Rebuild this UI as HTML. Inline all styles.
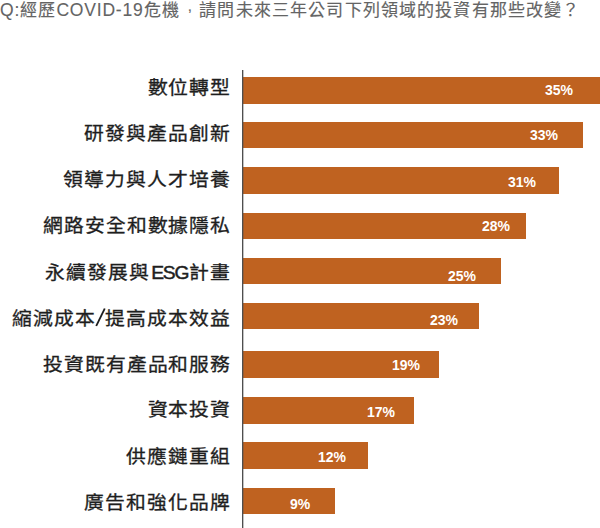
<!DOCTYPE html>
<html lang="zh-TW">
<head>
<meta charset="utf-8">
<style>
html,body{margin:0;padding:0;background:#fff;}
body{width:600px;height:528px;position:relative;overflow:hidden;font-family:"Liberation Sans",sans-serif;}
.title{position:absolute;left:0;top:-2.5px;font-size:17px;letter-spacing:1.15px;color:#646464;white-space:nowrap;line-height:24px;-webkit-text-stroke:0.15px #646464;}
.lt{-webkit-text-stroke:0.1px #646464;font-size:17.5px;letter-spacing:0.8px;}
.cm{display:inline-block;width:19.5px;height:10px;position:relative;}
.cm i{position:absolute;left:8px;top:-11.5px;font-style:normal;font-size:15px;}
.axis{position:absolute;left:242px;top:70px;width:2px;height:458px;background:linear-gradient(to right,#4e4e4e 0 1px,rgba(78,78,78,0.35) 1px 2px);z-index:2;}
.lab{position:absolute;right:369px;font-size:18.5px;letter-spacing:0.6px;color:#1e1e1e;white-space:nowrap;line-height:28px;-webkit-text-stroke:0.3px #1e1e1e;transform:scaleX(1.07);transform-origin:100% 50%;}
.esg{font-size:18px;font-weight:normal;letter-spacing:-1.2px;-webkit-text-stroke:0.45px #1e1e1e;margin:0 1px 0 1.5px;}
.sl{display:inline-block;width:10px;height:20px;vertical-align:-1.5px;margin-right:-1.5px;}
.bar{position:absolute;left:243px;background:#bf6220;}
.pct{position:absolute;line-height:20px;font-size:14px;font-weight:bold;color:#fff;white-space:nowrap;}
</style>
</head>
<body>
<div class="title"><span class="lt">Q:</span>經歷<span class="lt">COVID-19</span>危機<span class="cm"><i>,</i></span>請問未來三年公司下列領域的投資有那些改變？</div>
<div class="axis"></div>
<div class="lab" style="top:74px">數位轉型</div>
<div class="bar" style="top:77px;height:27px;width:357px"></div>
<div class="pct" style="left:545px;top:80px">35%</div>
<div class="lab" style="top:120px">研發與產品創新</div>
<div class="bar" style="top:122px;height:26px;width:340px"></div>
<div class="pct" style="left:530px;top:125px">33%</div>
<div class="lab" style="top:166px">領導力與人才培養</div>
<div class="bar" style="top:167px;height:27px;width:316px"></div>
<div class="pct" style="left:508px;top:172px">31%</div>
<div class="lab" style="top:212px">網路安全和數據隱私</div>
<div class="bar" style="top:213px;height:26px;width:283px"></div>
<div class="pct" style="left:482px;top:216px">28%</div>
<div class="lab" style="top:259px">永續發展與<span class="esg">ESG</span>計畫</div>
<div class="bar" style="top:258px;height:26px;width:258px"></div>
<div class="pct" style="left:448px;top:266px">25%</div>
<div class="lab" style="top:305px">縮減成本<svg class="sl" viewBox="0 0 10 20"><line x1="1" y1="19" x2="9" y2="1.5" stroke="#1e1e1e" stroke-width="1.8"/></svg>提高成本效益</div>
<div class="bar" style="top:303px;height:26px;width:236px"></div>
<div class="pct" style="left:430px;top:310px">23%</div>
<div class="lab" style="top:351px">投資既有產品和服務</div>
<div class="bar" style="top:351px;height:27px;width:196px"></div>
<div class="pct" style="left:392px;top:355px">19%</div>
<div class="lab" style="top:396px">資本投資</div>
<div class="bar" style="top:397px;height:27px;width:171px"></div>
<div class="pct" style="left:367px;top:402px">17%</div>
<div class="lab" style="top:443px">供應鏈重組</div>
<div class="bar" style="top:442px;height:27px;width:125px"></div>
<div class="pct" style="left:318px;top:447px">12%</div>
<div class="lab" style="top:489px">廣告和強化品牌</div>
<div class="bar" style="top:488px;height:26px;width:92px"></div>
<div class="pct" style="left:290px;top:494px">9%</div>
</body>
</html>
